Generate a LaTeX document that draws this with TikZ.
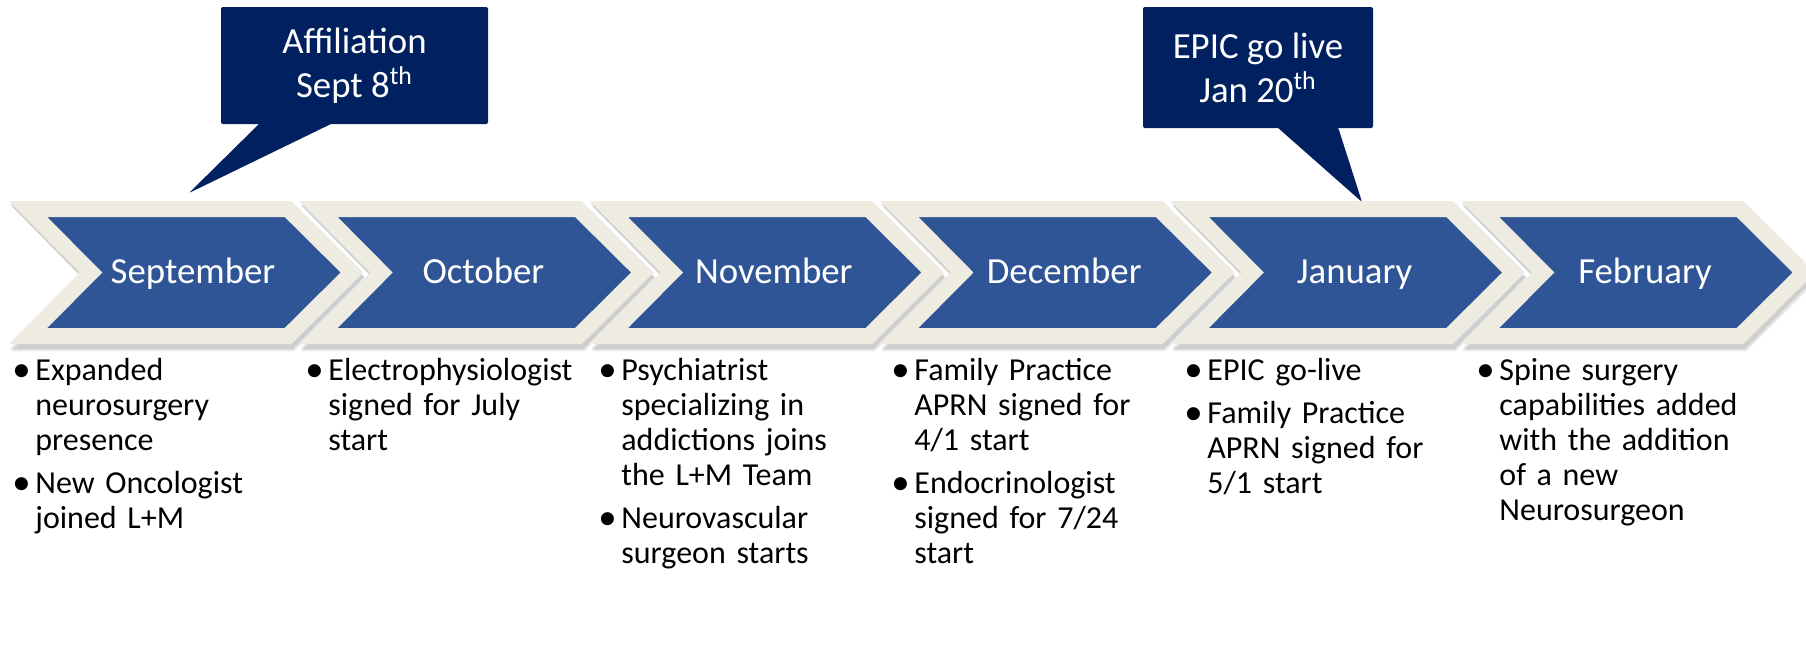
\documentclass[tikz,border=0pt]{standalone}
\usepackage{fontspec}
\setmainfont{Carlito}
\usepackage{xcolor}
\usepackage{tikz}
\usetikzlibrary{calc}

\definecolor{chevblue}{RGB}{47,85,151}
\definecolor{calloutnavy}{RGB}{0,32,96}
\definecolor{rimbeige}{RGB}{238,236,225}

\newcommand{\noteitem}[1]{\noindent\makebox[11pt][l]{\hspace{-0.5pt}\raisebox{-0.5pt}{\scalebox{1.15}{\textbullet}}}%
  \parbox[t]{135pt}{\fontsize{16}{17.5}\selectfont #1\strut}\par
  \prevdepth=\dp\strutbox\vspace{4pt}}

\begin{document}
\begin{tikzpicture}[x=0.5pt, y=-0.5pt,
  chevron/.pic={
    % soft shadow, then the beige rim, then the blue body
    \fill[black, opacity=.10] (-17,-3) -- (266,-3) -- (338,70) -- (266,142) -- (-17,142) -- (55,70) -- cycle;
    \fill[black, opacity=.10] (-18,-5) -- (265,-5) -- (336,68) -- (265,140) -- (-18,140) -- (54,68) -- cycle;
    \path[draw=rimbeige, line width=8pt, line join=miter, fill=chevblue]
      (0,0) -- (260,0) -- (324,63.5) -- (260,127) -- (0,127) -- (63,63.5) -- cycle;
  },
  month/.style={text=white, font=\fontsize{18.4}{22}\selectfont, anchor=base, inner sep=0pt},
  callout/.style={fill=calloutnavy, text=white, rounded corners=1pt, align=center,
    font=\fontsize{18.4}{22}\selectfont, inner sep=0pt, outer sep=0pt},
  notes/.style={anchor=base west, text width=145pt, inner sep=0pt,
    font=\fontsize{16}{17.5}\selectfont,
    execute at begin node={\fontsize{16}{17.5}\selectfont\parskip=0pt}}]

  \useasboundingbox (0,0) rectangle (1806,665);

  % the six months
  \pic at (28,209) {chevron};
  \pic at (318.4,209) {chevron};
  \pic at (608.8,209) {chevron};
  \pic at (899.2,209) {chevron};
  \pic at (1189.6,209) {chevron};
  \pic at (1480,209) {chevron};

  \node[month] (september) at (193,283) {September};
  \node[month] (october) at (483.4,283) {October};
  \node[month] (november) at (773.8,283) {November};
  \node[month] (december) at (1064.2,283) {December};
  \node[month] (january) at (1354.6,283) {January};
  \node[month] (february) at (1645,283) {February};

  % milestones
  \node[callout, minimum width=133.5pt, minimum height=58.5pt] (affiliation) at (354.5,65.5)
    {Affiliation\\Sept 8\textsuperscript{th}};
  \coordinate (affiliation tip) at (189,193);
  \fill[calloutnavy, rounded corners=1pt] ($(affiliation.south west)+(39,-1)$) -- (affiliation tip)
    -- ($(affiliation.south west)+(112,-1)$) -- cycle;

  \node[callout, minimum width=115pt, minimum height=60.5pt] (epic) at (1258,67.5)
    {EPIC go live\\Jan 20\textsuperscript{th}};
  \coordinate (epic tip) at (1362,202);
  \fill[calloutnavy, rounded corners=1pt] ($(epic.south west)+(134,-1)$) -- (epic tip)
    -- ($(epic.south west)+(195,-1)$) -- cycle;

  % what happened each month
  \node[notes] (september notes) at (13,380)
    {\noteitem{Expanded\\neurosurgery\\presence}
     \noteitem{New Oncologist\\joined L+M}};
  \node[notes] (october notes) at (306,380)
    {\noteitem{Electrophysiologist\\signed for July\\start}};
  \node[notes] (november notes) at (599,380)
    {\noteitem{Psychiatrist\\specializing in\\addictions joins\\the L+M Team}
     \noteitem{Neurovascular\\surgeon starts}};
  \node[notes] (december notes) at (892,380)
    {\noteitem{Family Practice\\APRN signed for\\4/1 start}
     \noteitem{Endocrinologist\\signed for 7/24\\start}};
  \node[notes] (january notes) at (1185,380)
    {\noteitem{EPIC go-live}
     \noteitem{Family Practice\\APRN signed for\\5/1 start}};
  \node[notes] (february notes) at (1477,380)
    {\noteitem{Spine surgery\\capabilities added\\with the addition\\of a new\\Neurosurgeon}};
\end{tikzpicture}
\end{document}
